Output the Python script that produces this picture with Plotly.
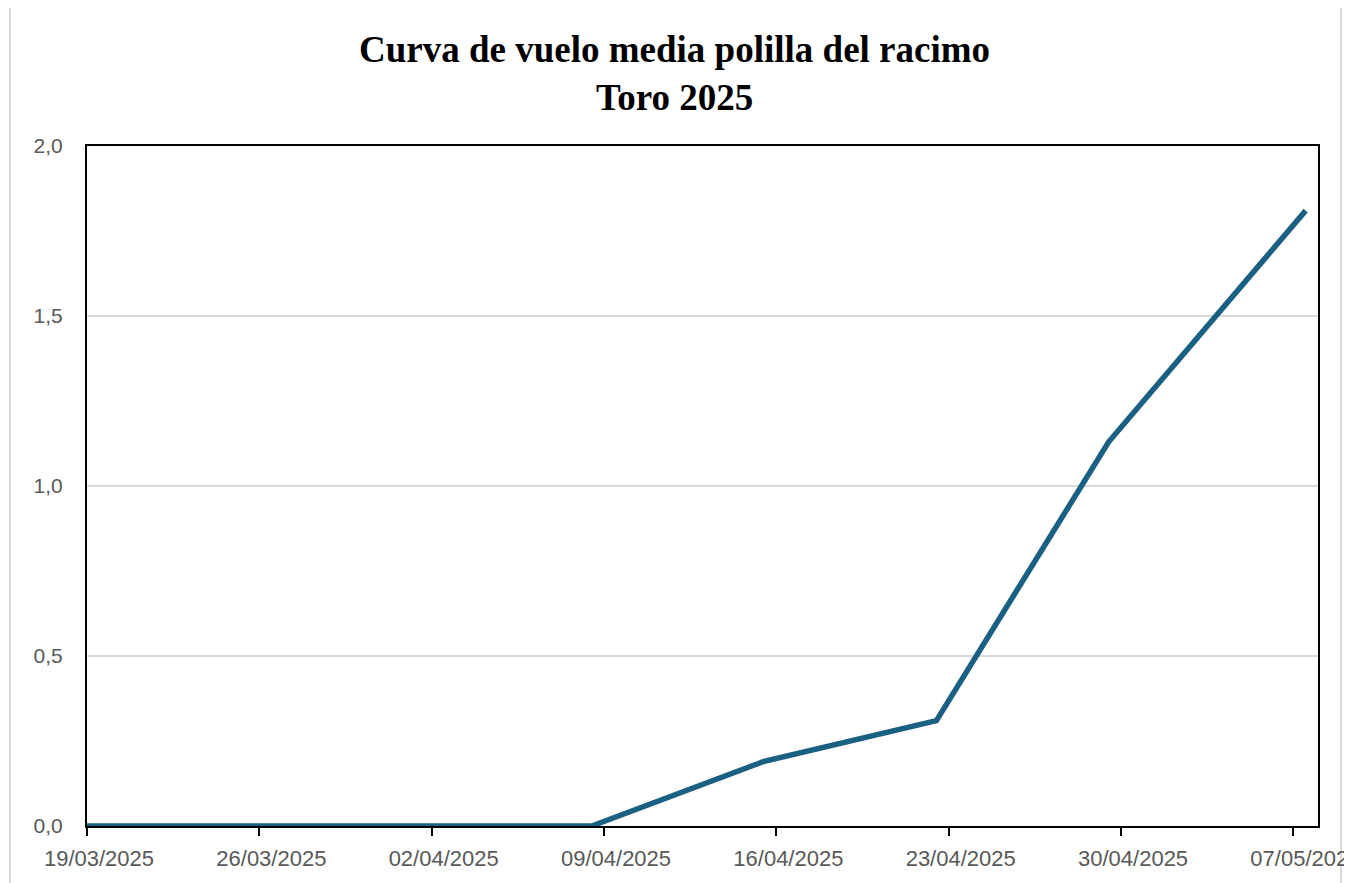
import pandas as pd
import plotly.graph_objects as go

# Weekly sampling dates and mean moth catches
sample_dates = ["2025-03-18", "2025-03-25", "2025-04-01", "2025-04-08",
                "2025-04-15", "2025-04-22", "2025-04-29", "2025-05-07"]
mean_catch = [0.0, 0.0, 0.0, 0.0, 0.19, 0.31, 1.13, 1.81]

tick_dates = ["2025-03-19", "2025-03-26", "2025-04-02", "2025-04-09",
              "2025-04-16", "2025-04-23", "2025-04-30", "2025-05-07"]
y_ticks = [0.0, 0.5, 1.0, 1.5, 2.0]

title_line1 = "Curva de vuelo media polilla del racimo"
title_line2 = "Toro 2025"

# Excel date axis "between tick marks": points sit at mid-day
x_vals = pd.to_datetime(sample_dates) + pd.Timedelta(hours=12)
tick_labels = [pd.Timestamp(d).strftime("%d/%m/%Y") for d in tick_dates]

fig = go.Figure()
fig.add_trace(go.Scatter(
    x=x_vals, y=mean_catch, mode="lines",
    line=dict(color="#1a6083", width=5.5),
    showlegend=False, hoverinfo="x+y",
))

OFF = 8  # page body margin
W, H = 1352, 883
# target screen positions of plot area: x 87..1318, y 146..826
L, T = 87 - OFF, 146 - OFF
R = W - (1318 - OFF)
B = H - (826 - OFF)
pw, ph = W - L - R, H - T - B

def px_x(p):
    return (p - OFF - L) / pw

def px_y(p):
    return (H - B - (p - OFF)) / ph

fig.update_layout(
    width=W, height=H,
    margin=dict(l=L, r=R, t=T, b=B, autoexpand=False),
    paper_bgcolor="white", plot_bgcolor="white",
    separators=",.",
    font=dict(family="Liberation Sans, Arial, sans-serif", size=22, color="#595959"),
    xaxis=dict(
        type="date",
        range=["2025-03-19", "2025-05-08"],
        tickvals=pd.to_datetime(tick_dates), ticktext=tick_labels,
        ticks="outside", ticklen=8, tickwidth=2, tickcolor="black",
        ticklabelshift=12, ticklabelstandoff=4,
        ticklabeloverflow="allow",
        showline=True, linecolor="black", linewidth=2, mirror=True,
        showgrid=False, zeroline=False,
        tickfont=dict(size=22, color="#595959"),
    ),
    yaxis=dict(
        range=[0, 2.0],
        tickvals=y_ticks, tickformat=".1f",
        ticks="", ticklabelstandoff=18,
        showline=True, linecolor="black", linewidth=2, mirror=True,
        showgrid=True, gridcolor="#d9d9d9", gridwidth=2,
        zeroline=False,
        tickfont=dict(size=21, color="#595959"),
    ),
    annotations=[
        dict(text="<b>%s</b>" % title_line1, xref="paper", yref="paper",
             x=px_x(674), y=px_y(49), xanchor="center", yanchor="middle",
             showarrow=False,
             font=dict(family="Liberation Serif, Times New Roman, serif", size=37, color="black")),
        dict(text="<b>%s</b>" % title_line2, xref="paper", yref="paper",
             x=px_x(674), y=px_y(97), xanchor="center", yanchor="middle",
             showarrow=False,
             font=dict(family="Liberation Serif, Times New Roman, serif", size=37, color="black")),
    ],
    shapes=[
        dict(type="rect", xref="paper", yref="paper",
             x0=px_x(10), x1=px_x(1341), y0=px_y(900), y1=px_y(5),
             line=dict(color="#d9d9d9", width=2), layer="below"),
    ],
)

fig.write_html("out.html")
